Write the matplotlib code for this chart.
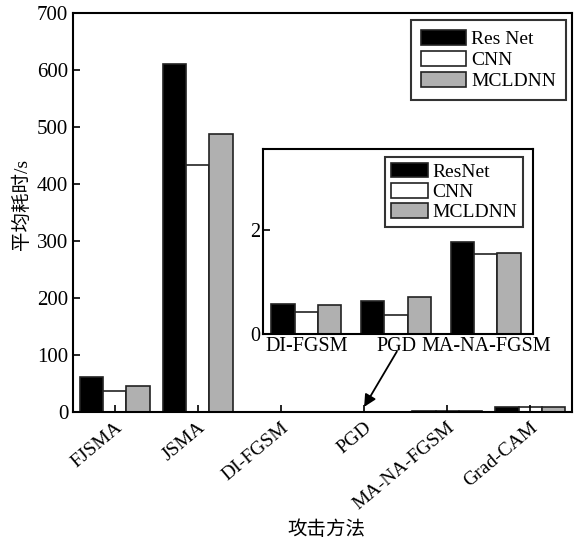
import numpy as np
import matplotlib.pyplot as plt

plt.rcParams['font.family'] = ['Liberation Serif', 'Noto Sans CJK SC']

# 各攻击方法在三种模型上的平均耗时 (s)
methods = ['FJSMA', 'JSMA', 'DI-FGSM', 'PGD', 'MA-NA-FGSM', 'Grad-CAM']
resnet = [62, 610, 0.58, 0.63, 1.76, 8.5]
cnn = [37, 433, 0.42, 0.36, 1.54, 8.0]
mcldnn = [45, 487, 0.56, 0.72, 1.56, 8.5]

# 局部放大的三种方法
zoom_methods = ['DI-FGSM', 'PGD', 'MA-NA-FGSM']
zoom_resnet = [0.58, 0.63, 1.76]
zoom_cnn = [0.42, 0.36, 1.54]
zoom_mcldnn = [0.56, 0.72, 1.56]

colors = ['black', 'white', '#b0b0b0']
fs = 14

fig = plt.figure(figsize=(5.76, 5.45), dpi=100)
ax = fig.add_axes([0.127, 0.244, 0.866, 0.732])

x = np.arange(len(methods))
w = 0.28
ax.bar(x - w, resnet, w, color=colors[0], edgecolor='#222222', linewidth=1.2, label='Res Net')
ax.bar(x, cnn, w, color=colors[1], edgecolor='#222222', linewidth=1.2, label='CNN')
ax.bar(x + w, mcldnn, w, color=colors[2], edgecolor='#222222', linewidth=1.2, label='MCLDNN')

ax.set_xlim(-0.5, 5.5)
ax.set_ylim(0, 700)
ax.set_yticks(range(0, 701, 100))
ax.set_xticks(x)
ax.set_xticklabels(methods, rotation=40, ha='right', rotation_mode='anchor')
ax.tick_params(direction='in', labelsize=15, width=1.2, length=5)
ax.tick_params(axis='x', labelsize=14, pad=5)
for s in ax.spines.values():
    s.set_linewidth(1.5)

# 坐标轴标题
fig.text(22 / 576, 1 - 204 / 545, '平均耗时/s', fontsize=14, rotation=90,
         ha='center', va='center')
fig.text(326 / 576, 1 - 530 / 545, '攻击方法', fontsize=14, ha='center', va='center')

leg = ax.legend(loc='upper right', fontsize=fs, frameon=True, fancybox=False,
                edgecolor='black', borderpad=0.5, handlelength=2.3, handleheight=0.8,
                handletextpad=0.3, labelspacing=0.15, borderaxespad=0,
                bbox_to_anchor=(0.988, 0.982))
leg.get_frame().set_linewidth(1.5)

# 放大子图
axin = fig.add_axes([0.457, 0.387, 0.469, 0.340])
xz = np.arange(len(zoom_methods))
wz = 0.26
axin.bar(xz - wz, zoom_resnet, wz, color=colors[0], edgecolor='#222222', linewidth=1.2, label='ResNet')
axin.bar(xz, zoom_cnn, wz, color=colors[1], edgecolor='#222222', linewidth=1.2, label='CNN')
axin.bar(xz + wz, zoom_mcldnn, wz, color=colors[2], edgecolor='#222222', linewidth=1.2, label='MCLDNN')
axin.set_xlim(-0.48, 2.53)
axin.set_ylim(0, 3.55)
axin.set_yticks([0, 2])
axin.set_xticks(xz)
axin.set_xticklabels(zoom_methods)
axin.tick_params(direction='in', labelsize=14.5, width=1.2, length=5, pad=2)
axin.tick_params(axis='x', length=0)
for s in axin.spines.values():
    s.set_linewidth(1.5)
leg2 = axin.legend(loc='upper right', fontsize=fs, frameon=True, fancybox=False,
                   edgecolor='black', borderpad=0.3, handlelength=1.9, handleheight=0.8,
                   handletextpad=0.25, labelspacing=0.1, borderaxespad=0,
                   bbox_to_anchor=(0.963, 0.957))
leg2.get_frame().set_linewidth(1.5)

# 指向 PGD 的箭头
ax.annotate('', xy=(3, 9), xycoords='data', xytext=(0.689, 0.355),
            textcoords='figure fraction',
            arrowprops=dict(arrowstyle='-|>', color='black', lw=1.3,
                            mutation_scale=18, shrinkA=0, shrinkB=0))

fig.savefig('out.png', dpi=100)
